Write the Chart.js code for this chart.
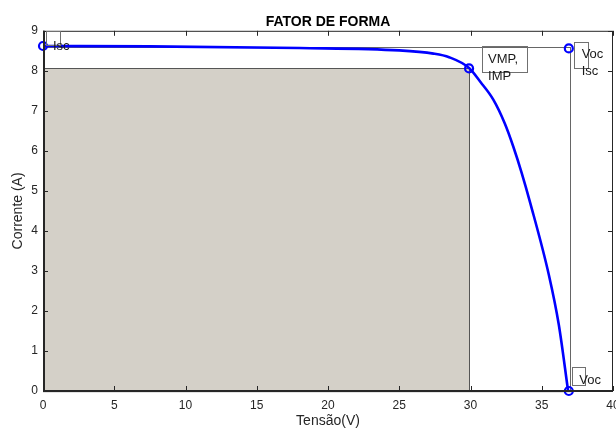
<!DOCTYPE html>
<html>
<head>
<meta charset="utf-8">
<script src="https://cdn.jsdelivr.net/npm/chart.js@4.4.1/dist/chart.umd.min.js"></script>
<style>
  html, body { margin: 0; padding: 0; background: #fff; }
  #wrap { width: 616px; height: 432px; }
</style>
</head>
<body>
<div id="wrap"><canvas id="chart" width="616" height="432"></canvas></div>
<script>
// I-V curve
const tensao = [0, 7.5, 18, 25, 27.4, 28.5, 29.9, 30.7, 31.6, 32.4, 33.0, 33.6, 34.2, 35.5, 36.2, 36.85];
const corrente = [8.62, 8.61, 8.57, 8.51, 8.43, 8.34, 8.07, 7.72, 7.28, 6.69, 6.11, 5.44, 4.69, 2.9, 1.65, 0];

// key points
const Isc = 8.6;
const Voc = 36.9;
const Vmp = 29.9;
const Imp = 8.06;
const marcadoresX = [0, Vmp, Voc, Voc];
const marcadoresY = [8.62, Imp, 8.56, 0];

const xTicks = [0, 5, 10, 15, 20, 25, 30, 35, 40];
const yTicks = [0, 1, 2, 3, 4, 5, 6, 7, 8, 9];

// text labels (x, y = text anchor; box = [x0, y0, x1, y1])
const rotulos = [
  { lines: ['Isc'], x: 0.7, y: 8.62, box: [0.21, 9, 1.19, 8.65] },
  { lines: ['VMP,', 'IMP'], x: 31.23, y: 8.29, box: [30.78, 8.63, 33.94, 7.97] },
  { lines: ['Voc', 'Isc'], x: 37.8, y: 8.4, box: [37.28, 8.73, 38.27, 8.09] },
  { lines: ['Voc'], x: 37.64, y: 0.26, box: [37.14, 0.61, 38.08, 0.15] }
];

const FONT = "'Liberation Sans', Arial, Helvetica, sans-serif";

const moldura = {
  id: 'moldura',
  beforeDatasetsDraw(chart) {
    const { ctx, scales: { x, y } } = chart;
    ctx.save();
    // Vmp x Imp area
    const x0 = x.getPixelForValue(0), y0 = y.getPixelForValue(0);
    const xm = x.getPixelForValue(Vmp), ym = y.getPixelForValue(Imp);
    ctx.fillStyle = '#d4d0c8';
    ctx.fillRect(x0, ym, xm - x0, y0 - ym);
    ctx.strokeStyle = '#555';
    ctx.lineWidth = 1;
    ctx.strokeRect(x0 + 0.5, Math.round(ym) + 0.5, Math.round(xm - x0), y0 - ym);
    // Voc x Isc outline
    const xv = x.getPixelForValue(Voc + 0.08), yi = y.getPixelForValue(Isc);
    ctx.strokeStyle = '#666';
    ctx.strokeRect(x0 + 0.5, Math.round(yi) + 0.5, Math.round(xv - x0), y0 - yi);
    ctx.restore();
  },
  afterDatasetsDraw(chart) {
    const { ctx, chartArea: a, scales: { x, y } } = chart;
    ctx.save();
    // axes box
    ctx.strokeStyle = '#262626';
    ctx.lineWidth = 1;
    ctx.strokeRect(a.left + 0.5, a.top + 0.5, a.right - a.left - 1, a.bottom - a.top);
    ctx.lineWidth = 2;
    ctx.beginPath();
    ctx.moveTo(a.left, a.bottom); ctx.lineTo(a.right, a.bottom);
    ctx.moveTo(a.left + 1, a.top); ctx.lineTo(a.left + 1, a.bottom);
    ctx.stroke();
    ctx.lineWidth = 1;
    // inward ticks
    ctx.beginPath();
    xTicks.forEach(v => {
      const px = Math.round(x.getPixelForValue(v)) + 0.5;
      ctx.moveTo(px, a.bottom); ctx.lineTo(px, a.bottom - 5);
      ctx.moveTo(px, a.top); ctx.lineTo(px, a.top + 5);
    });
    yTicks.forEach(v => {
      const py = Math.round(y.getPixelForValue(v)) + 0.5;
      ctx.moveTo(a.left, py); ctx.lineTo(a.left + 5, py);
      ctx.moveTo(a.right, py); ctx.lineTo(a.right - 5, py);
    });
    ctx.stroke();
    // text labels
    ctx.font = '13px ' + FONT;
    ctx.textBaseline = 'middle';
    ctx.textAlign = 'left';
    rotulos.forEach(r => {
      const bx0 = x.getPixelForValue(r.box[0]), by0 = y.getPixelForValue(r.box[1]);
      const bx1 = x.getPixelForValue(r.box[2]), by1 = y.getPixelForValue(r.box[3]);
      ctx.strokeStyle = '#707070';
      ctx.strokeRect(Math.round(bx0) + 0.5, Math.round(by0) + 0.5, Math.round(bx1 - bx0), Math.round(by1 - by0));
      ctx.fillStyle = '#1a1a1a';
      const tx = x.getPixelForValue(r.x), ty = y.getPixelForValue(r.y);
      r.lines.forEach((t, i) => ctx.fillText(t, tx, ty + i * 17));
    });
    ctx.restore();
  }
};

new Chart(document.getElementById('chart'), {
  type: 'line',
  data: {
    datasets: [
      {
        label: 'marcadores',
        data: marcadoresX.map((v, i) => ({ x: v, y: marcadoresY[i] })),
        showLine: false,
        pointStyle: 'circle',
        pointRadius: 4,
        pointBorderWidth: 2.2,
        pointBorderColor: '#0000ff',
        pointBackgroundColor: 'rgba(0,0,0,0)',
        clip: false
      },
      {
        label: 'curva I-V',
        data: tensao.map((v, i) => ({ x: v, y: corrente[i] })),
        borderColor: '#0000ff',
        borderWidth: 2.6,
        pointRadius: 0,
        cubicInterpolationMode: 'monotone',
        fill: false,
        clip: false
      }
    ]
  },
  options: {
    responsive: false,
    animation: false,
    layout: { autoPadding: false, padding: { top: 0, right: 3, left: 0, bottom: 0 } },
    plugins: {
      legend: { display: false },
      tooltip: { enabled: false },
      title: {
        display: true,
        fullSize: false,
        text: 'FATOR DE FORMA',
        color: '#000',
        font: { family: FONT, size: 14, weight: 'bold' },
        padding: { top: 14, bottom: 0 }
      }
    },
    scales: {
      x: {
        type: 'linear',
        min: 0,
        max: 40,
        afterBuildTicks: s => { s.ticks = xTicks.map(v => ({ value: v })); },
        afterFit: s => { s.height = 41; s.paddingLeft = 0; s.paddingRight = 0; },
        grid: { display: false, drawTicks: false },
        border: { display: false },
        ticks: { color: '#262626', font: { family: FONT, size: 12 }, padding: 7 },
        title: { display: true, text: 'Tensão(V)', color: '#262626', font: { family: FONT, size: 14 }, padding: { top: 0, bottom: 2 } }
      },
      y: {
        type: 'linear',
        min: 0,
        max: 9,
        afterBuildTicks: s => { s.ticks = yTicks.map(v => ({ value: v })); },
        afterFit: s => { s.width = 43; s.paddingTop = 0; s.paddingBottom = 0; },
        grid: { display: false, drawTicks: false },
        border: { display: false },
        ticks: { color: '#262626', font: { family: FONT, size: 12 }, padding: 5 },
        title: { display: true, text: 'Corrente (A)', color: '#262626', font: { family: FONT, size: 14 }, padding: { top: 10, bottom: 0 } }
      }
    }
  },
  plugins: [moldura]
});
</script>
</body>
</html>
